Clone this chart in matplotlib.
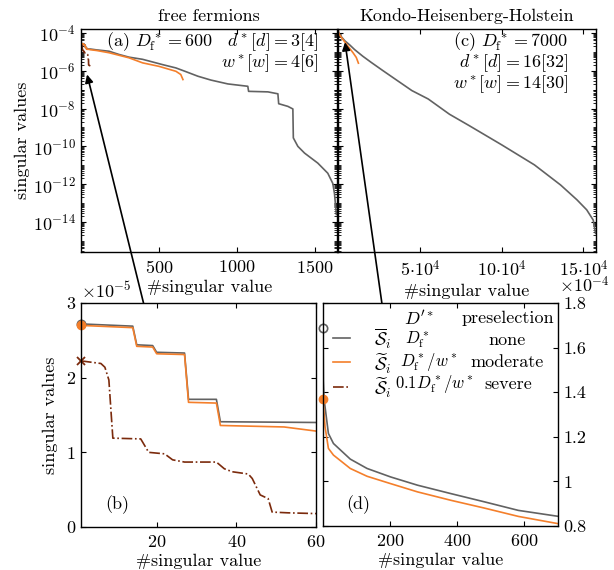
import numpy as np
import matplotlib
matplotlib.use('Agg')
import matplotlib.pyplot as plt
from matplotlib.ticker import (FixedLocator, LogLocator, NullFormatter,
                               FuncFormatter, LogFormatterSciNotation)
from matplotlib.patches import ConnectionPatch
from matplotlib.lines import Line2D

# ---- free fermions: first 60 singular values (panel b) ----
ff_none_x = [1, 14, 15, 19, 20, 27, 28, 35, 36, 60]
ff_none_y = [2.72e-5, 2.69e-5, 2.44e-5, 2.43e-5, 2.34e-5, 2.33e-5,
             1.71e-5, 1.71e-5, 1.41e-5, 1.40e-5]
ff_mod_x = [1, 14, 15, 19, 20, 27, 28, 35, 36, 52, 60]
ff_mod_y = [2.70e-5, 2.67e-5, 2.42e-5, 2.41e-5, 2.32e-5, 2.31e-5,
            1.67e-5, 1.66e-5, 1.36e-5, 1.34e-5, 1.285e-5]
ff_sev_x = [1, 6, 7, 8, 9, 16, 18, 22, 24, 27, 35, 37, 39, 43, 44, 46, 48, 49, 53, 60]
ff_sev_y = [2.225e-5, 2.19e-5, 2.14e-5, 1.97e-5, 1.19e-5, 1.18e-5, 1.0e-5, 0.98e-5,
            0.90e-5, 0.87e-5, 0.87e-5, 0.78e-5, 0.74e-5, 0.71e-5, 0.65e-5,
            0.43e-5, 0.38e-5, 0.20e-5, 0.19e-5, 0.18e-5]

# ---- free fermions: rest of the spectrum (panel a) ----
ff_none_tail_x = [100, 180, 244, 308, 395, 523, 609, 667, 750, 833, 942, 1070, 1075,
                  1199, 1263, 1268, 1327, 1359, 1362, 1391, 1434, 1519, 1583, 1615,
                  1626, 1638]
ff_none_tail_y = [1.26e-5, 1.07e-5, 7.2e-6, 5.2e-6, 4.0e-6, 2.1e-6, 1.4e-6, 9.3e-7,
                  5.1e-7, 3.2e-7, 2.0e-7, 1.5e-7, 8.1e-8, 7.6e-8, 6.0e-8, 1.8e-8,
                  1.3e-8, 9.5e-9, 2.8e-10, 1.0e-10, 4.4e-11, 1.3e-11, 3.8e-12,
                  1.1e-12, 3.2e-13, 2.5e-14]
ff_mod_tail_x = [100, 180, 308, 395, 500, 609, 640, 654]
ff_mod_tail_y = [1.17e-5, 8.9e-6, 4.8e-6, 2.6e-6, 1.7e-6, 9.3e-7, 6.3e-7, 3.4e-7]

# ---- Kondo-Heisenberg-Holstein (panels c, d) ----
khh_none_x = [1, 2, 4, 17, 32, 82, 132, 202, 282, 382, 482, 582, 702,
              2000, 4000, 7000, 10000, 15000, 20000, 27000, 35000, 45000, 55000,
              68000, 80000, 100000, 120000, 136000, 146000, 152000, 156000, 157400]
khh_none_y = [1.69e-4, 1.45e-4, 1.37e-4, 1.215e-4, 1.17e-4, 1.10e-4, 1.058e-4,
              1.02e-4, 0.983e-4, 0.945e-4, 0.908e-4, 0.87e-4, 0.843e-4,
              6.0e-5, 3.8e-5, 2.3e-5, 1.3e-5, 5.8e-6, 2.8e-6, 1.05e-6, 3.5e-7,
              8.9e-8, 3.2e-8, 5.0e-9, 1.26e-9, 1.2e-10, 1.05e-11, 9.1e-13,
              1.5e-13, 4.4e-14, 1.26e-14, 2.5e-15]
khh_mod_x = [1, 7, 17, 32, 82, 132, 202, 282, 382, 482, 582, 702,
             2000, 5000, 9000, 11000, 12300]
khh_mod_y = [1.368e-4, 1.245e-4, 1.148e-4, 1.118e-4, 1.058e-4, 1.023e-4, 0.99e-4,
             0.953e-4, 0.915e-4, 0.88e-4, 0.843e-4, 0.81e-4,
             5.6e-5, 2.5e-5, 8.9e-6, 5.0e-6, 2.5e-6]

log_major = [1e-14, 1e-12, 1e-10, 1e-8, 1e-6, 1e-4]
a_xticks = [500, 1000, 1500]
c_xticks = [5e4, 10e4, 15e4]
c_xticklabels = [r'$5{\cdot}10^{4}$', r'$10{\cdot}10^{4}$', r'$15{\cdot}10^{4}$']
b_xticks = [20, 40, 60]
b_yticks = [0, 1e-5, 2e-5, 3e-5]
d_xticks = [200, 400, 600]
d_yticks = [0.8e-4, 1.0e-4, 1.2e-4, 1.4e-4, 1.6e-4, 1.8e-4]

GRAY = '#626262'
ORANGE = '#f47f2b'
BROWN = '#7b2a0c'

plt.rcParams.update({
    'font.family': 'serif',
    'font.serif': ['cmr10'],
    'mathtext.fontset': 'cm',
    'axes.formatter.use_mathtext': True,
    'axes.unicode_minus': False,
    'font.size': 13,
    'axes.titlesize': 13,
    'axes.linewidth': 1.0,
    'xtick.direction': 'in',
    'ytick.direction': 'in',
    'xtick.top': True,
    'ytick.right': True,
    'xtick.major.size': 3.5,
    'ytick.major.size': 3.5,
    'xtick.minor.size': 2,
    'ytick.minor.size': 2,
    'xtick.major.pad': 5,
    'ytick.major.pad': 4,
})


def style_log(ax):
    ax.set_yscale('log')
    ax.set_ylim(2.6e-16, 1.6e-4)
    ax.yaxis.set_major_locator(FixedLocator(log_major))
    ax.yaxis.set_minor_locator(LogLocator(base=10, subs=np.arange(1, 10), numticks=100))
    ax.yaxis.set_minor_formatter(NullFormatter())


fig = plt.figure(figsize=(6.14, 5.7), dpi=100)
ax_a = fig.add_axes([0.1319, 0.5579, 0.4177, 0.3912])
ax_c = fig.add_axes([0.5510, 0.5579, 0.4192, 0.3912])
ax_b = fig.add_axes([0.1319, 0.0754, 0.3827, 0.3930])
ax_d = fig.add_axes([0.5261, 0.0772, 0.3827, 0.3912])

# (a) free fermions, log scale
ax_a.plot(ff_none_x + ff_none_tail_x, ff_none_y + ff_none_tail_y, color=GRAY, lw=1.2)
ax_a.plot(ff_mod_x + ff_mod_tail_x, ff_mod_y + ff_mod_tail_y, color=ORANGE, lw=1.2)
ax_a.plot(ff_sev_x, ff_sev_y, color=BROWN, lw=1.2, ls='-.')
style_log(ax_a)
ax_a.set_xlim(0, 1645)
ax_a.xaxis.set_major_locator(FixedLocator(a_xticks))
ax_a.yaxis.set_major_formatter(LogFormatterSciNotation(base=10))
ax_a.set_ylabel('singular values', labelpad=2)
ax_a.set_xlabel('#singular value', labelpad=3)
ax_a.set_title('free fermions', pad=6)
ax_a.text(0.925, 0.942, r'(a) $D_\mathrm{f}^* = 600\quad d^*[d] = 3[4]$',
          transform=ax_a.transAxes, ha='right', va='center')
ax_a.text(0.925, 0.848, r'$w^*[w] = 4[6]$', transform=ax_a.transAxes,
          ha='right', va='center')

# (c) KHH, log scale
ax_c.plot(khh_none_x, khh_none_y, color=GRAY, lw=1.2)
ax_c.plot(khh_mod_x, khh_mod_y, color=ORANGE, lw=1.2)
style_log(ax_c)
ax_c.yaxis.set_major_formatter(NullFormatter())
ax_c.set_xlim(0, 1.575e5)
ax_c.xaxis.set_major_locator(FixedLocator(c_xticks))
ax_c.xaxis.set_major_formatter(FuncFormatter(lambda v, p: c_xticklabels[p] if p is not None and p < 3 else ''))
ax_c.set_xlabel('#singular value', labelpad=3)
ax_c.set_title('Kondo-Heisenberg-Holstein', pad=6)
for txt, yy in [(r'(c) $D_\mathrm{f}^* = 7000$', 0.942),
                (r'$d^*[d] = 16[32]$', 0.848),
                (r'$w^*[w] = 14[30]$', 0.753)]:
    ax_c.text(0.892, yy, txt, transform=ax_c.transAxes, ha='right', va='center')

# (b) free fermions, linear
ax_b.plot(ff_none_x, ff_none_y, color=GRAY, lw=1.2)
ax_b.plot(ff_mod_x, ff_mod_y, color=ORANGE, lw=1.2)
ax_b.plot(ff_sev_x, ff_sev_y, color=BROWN, lw=1.2, ls='-.')
ax_b.plot(ff_none_x[:1], ff_none_y[:1], 'o', mfc='none', mec=GRAY, ms=6, mew=1.2, clip_on=False)
ax_b.plot(ff_mod_x[:1], ff_mod_y[:1], 'o', color=ORANGE, ms=6, clip_on=False)
ax_b.plot(ff_sev_x[:1], ff_sev_y[:1], 'x', color=BROWN, ms=6, mew=1.3, clip_on=False)
ax_b.set_xlim(1, 60)
ax_b.set_ylim(0, 3e-5)
ax_b.xaxis.set_major_locator(FixedLocator(b_xticks))
ax_b.yaxis.set_major_locator(FixedLocator(b_yticks))
ax_b.yaxis.set_major_formatter(FuncFormatter(lambda v, p: f'{v / 1e-5:g}'))
ax_b.set_ylabel('singular values', labelpad=6)
ax_b.set_xlabel('#singular value', labelpad=3)
ax_b.text(0.0, 1.01, r'$\times10^{-5}$', transform=ax_b.transAxes, ha='left', va='bottom')
ax_b.text(0.153, 0.098, '(b)', transform=ax_b.transAxes, ha='center', va='center')

# (d) KHH, linear
l_none, = ax_d.plot(khh_none_x, khh_none_y, color=GRAY, lw=1.2)
l_mod, = ax_d.plot(khh_mod_x, khh_mod_y, color=ORANGE, lw=1.2)
ax_d.plot(khh_none_x[:1], khh_none_y[:1], 'o', mfc='none', mec=GRAY, ms=6, mew=1.2, clip_on=False)
ax_d.plot(khh_mod_x[:1], khh_mod_y[:1], 'o', color=ORANGE, ms=6, clip_on=False)
ax_d.set_xlim(1, 700)
ax_d.set_ylim(0.8e-4, 1.8e-4)
ax_d.xaxis.set_major_locator(FixedLocator(d_xticks))
ax_d.yaxis.set_major_locator(FixedLocator(d_yticks))
ax_d.yaxis.set_major_formatter(FuncFormatter(lambda v, p: f'{v / 1e-4:g}'))
ax_d.yaxis.tick_right()
ax_d.tick_params(axis='y', left=True, right=True, labelleft=False, labelright=True)
ax_d.set_xlabel('#singular value', labelpad=3)
ax_d.text(1.005, 1.032, r'$\times10^{-4}$', transform=ax_d.transAxes, ha='left', va='bottom')
ax_d.text(0.149, 0.094, '(d)', transform=ax_d.transAxes, ha='center', va='center')

l_sev = Line2D([], [], color=BROWN, lw=1.2, ls='-.')
ax_d.legend([l_none, l_mod, l_sev],
            [r'$\overline{\mathcal{S}}_i$', r'$\widetilde{\mathcal{S}}_i$', r'$\widetilde{\mathcal{S}}_i$'],
            loc='upper left', bbox_to_anchor=(0.043, 0.893), frameon=False,
            borderpad=0, borderaxespad=0, handlelength=0.95, handletextpad=1.3,
            handleheight=1.4, labelspacing=0.0)
# remaining legend columns
cols = [(0.41, 0.933, r'$D^{\prime *}$', 13), (0.785, 0.933, 'preselection', 13),
        (0.40, 0.834, r'$D_\mathrm{f}^*$', 12), (0.785, 0.834, 'none', 13),
        (0.45, 0.735, r'$D_\mathrm{f}^*/w^*$', 12), (0.785, 0.735, 'moderate', 13),
        (0.475, 0.637, r'$0.1D_\mathrm{f}^*/w^*$', 12), (0.79, 0.637, 'severe', 13)]
for xx, yy, txt, fs in cols:
    ax_d.text(xx, yy, txt, transform=ax_d.transAxes, ha='center', va='center', fontsize=fs)

# arrows linking the zoomed panels to the full spectra
for axA, xyA, axB, xyB in [(ax_b, (16.7, 3e-5), ax_a, (39, 6.3e-7)),
                           (ax_d, (176, 1.8e-4), ax_c, (4100, 3.2e-5))]:
    con = ConnectionPatch(xyA=xyA, coordsA=axA.transData, xyB=xyB, coordsB=axB.transData,
                          arrowstyle='-|>', mutation_scale=12, lw=1.2, color='black', zorder=10)
    fig.add_artist(con)

fig.savefig('out.png', dpi=100)
